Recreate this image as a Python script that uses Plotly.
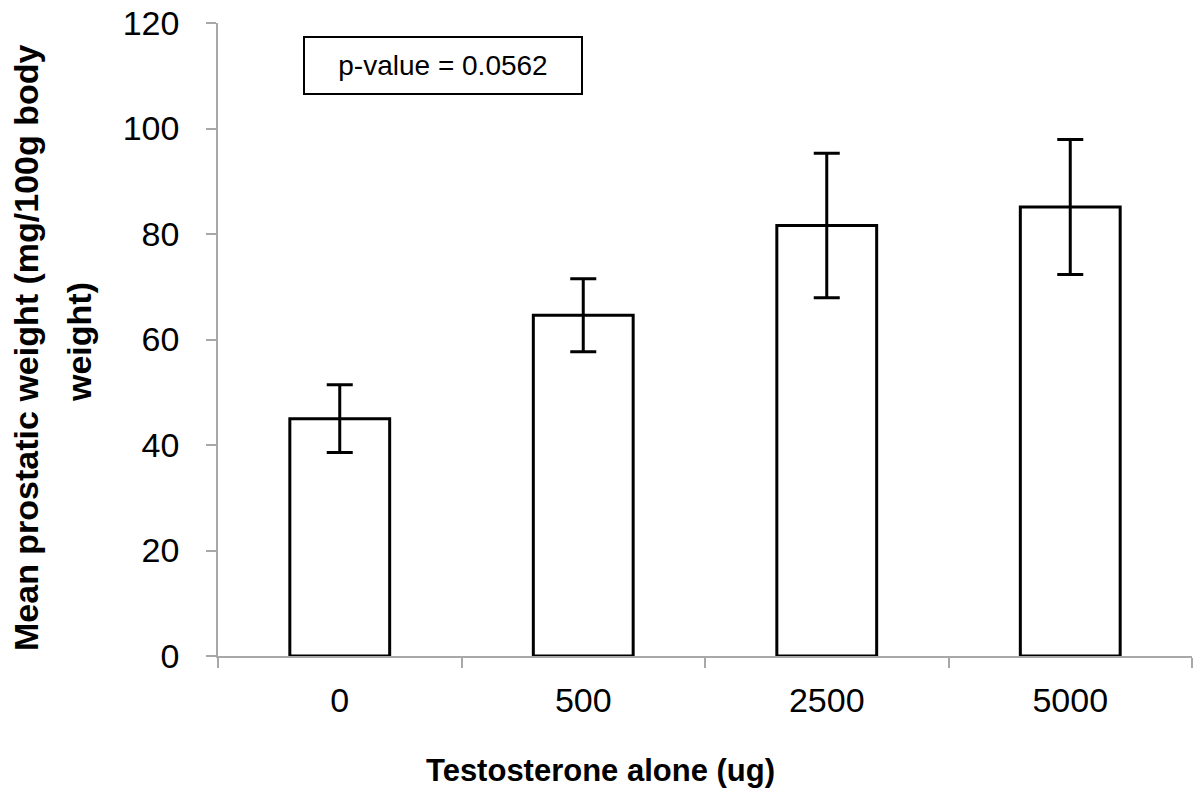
import plotly.graph_objects as go

categories = ["0", "500", "2500", "5000"]
means = [45.0, 64.6, 81.6, 85.1]
errors = [6.4, 6.9, 13.7, 12.8]
y_ticks = [0, 20, 40, 60, 80, 100, 120]

x_title = "Testosterone alone (ug)"
y_title_line1 = "Mean prostatic weight (mg/100g body"
y_title_line2 = "weight)"
p_text = "p-value = 0.0562"

axis_gray = "#a8a8a8"
font_fam = "Liberation Sans, Arial, sans-serif"

fig = go.Figure()
fig.add_trace(go.Bar(
    x=categories, y=means,
    marker=dict(color="white", line=dict(color="black", width=3)),
    error_y=dict(type="data", array=errors, visible=True,
                 color="black", thickness=3, width=13),
    width=0.41,
))

fig.update_layout(
    width=1200, height=798,
    margin=dict(l=218, r=8, t=23, b=142),
    paper_bgcolor="white", plot_bgcolor="white",
    showlegend=False,
    font=dict(family=font_fam, color="black"),
    xaxis=dict(
        type="category", automargin=False,
        showline=True, linecolor=axis_gray, linewidth=1.5,
        ticks="outside", tickson="boundaries", ticklen=10,
        tickcolor=axis_gray, tickwidth=1.5,
        tickfont=dict(size=34, family=font_fam, color="black"),
        ticklabelstandoff=13,
        showgrid=False, zeroline=False,
    ),
    yaxis=dict(
        range=[0, 120], tickmode="array", tickvals=y_ticks, automargin=False,
        ticktext=[str(v) for v in y_ticks],
        showline=True, linecolor=axis_gray, linewidth=1.5,
        ticks="outside", ticklen=10, tickcolor=axis_gray, tickwidth=1.5,
        tickfont=dict(size=34, family=font_fam, color="black"),
        ticklabelstandoff=20,
        showgrid=False, zeroline=False,
    ),
    annotations=[
        dict(text=p_text, xref="paper", yref="paper",
             x=(443 - 218) / 974, y=(656 - 65) / 633,
             xanchor="center", yanchor="middle", showarrow=False,
             font=dict(size=28, family=font_fam, color="black"),
             bordercolor="black", borderwidth=2, borderpad=0,
             width=276, height=55, align="center"),
        dict(text="<b>" + x_title + "</b>", xref="paper", yref="paper",
             x=(600 - 218) / 974, y=(656 - 770) / 633,
             xanchor="center", yanchor="middle", showarrow=False,
             font=dict(size=31, family=font_fam, color="black")),
        dict(text="<b>" + y_title_line1 + "</b>", xref="paper", yref="paper",
             x=(26 - 218) / 974, y=(656 - 348) / 633,
             xanchor="center", yanchor="middle", showarrow=False, textangle=-90,
             font=dict(size=34, family=font_fam, color="black")),
        dict(text="<b>" + y_title_line2 + "</b>", xref="paper", yref="paper",
             x=(79 - 218) / 974, y=(656 - 342) / 633,
             xanchor="center", yanchor="middle", showarrow=False, textangle=-90,
             font=dict(size=34, family=font_fam, color="black")),
    ],
)

fig.write_html("out.html",
               config={"displayModeBar": False},
               post_script="document.body.style.margin='0px';")
